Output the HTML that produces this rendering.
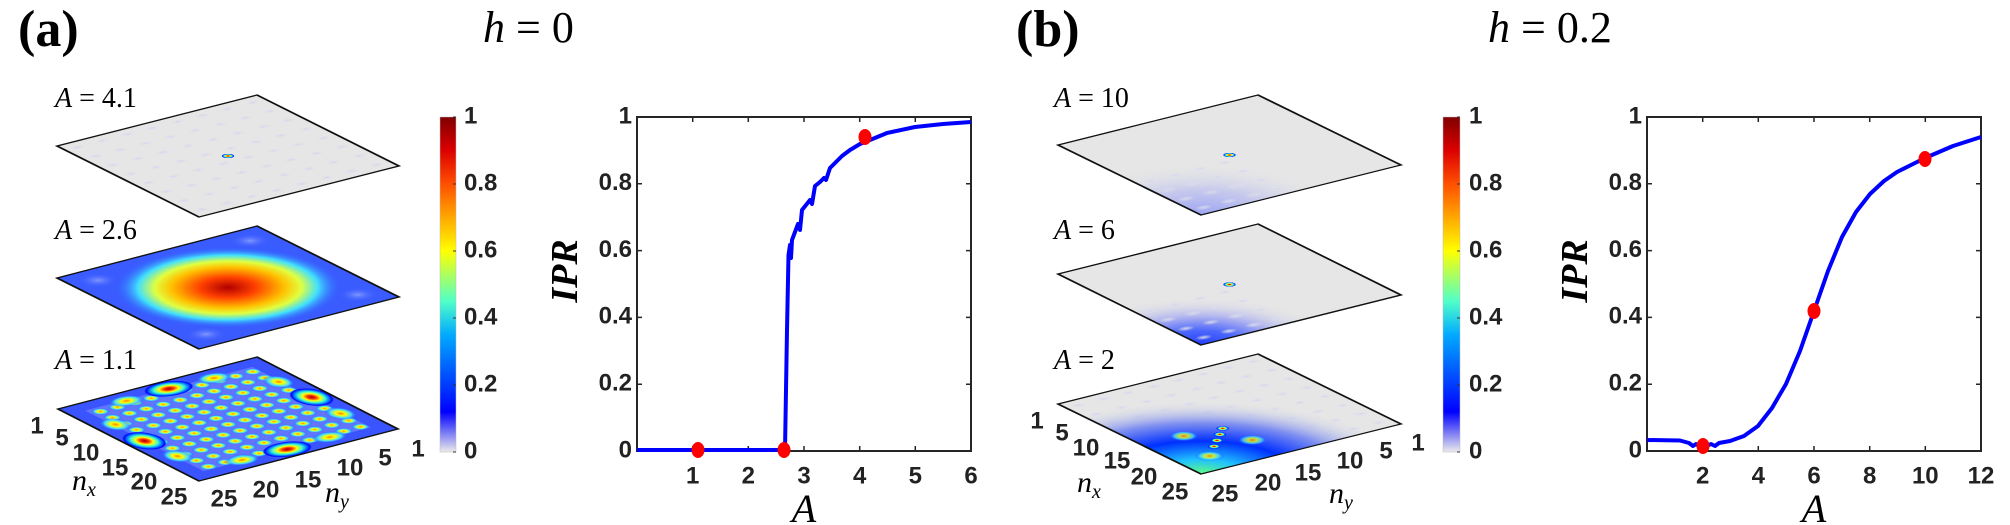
<!DOCTYPE html>
<html><head><meta charset="utf-8"><style>
html,body{margin:0;padding:0;background:#fff;width:2010px;height:525px;overflow:hidden;}
svg{display:block;}
.t{font-family:"Liberation Sans Narrow","Liberation Sans",sans-serif;font-size:24px;fill:#222;}
.tb{font-family:"Liberation Sans Narrow","Liberation Sans",sans-serif;font-size:24px;fill:#222;font-weight:bold;}
.s{font-family:"Liberation Serif",serif;}
</style></head><body>
<svg width="2010" height="525" xmlns="http://www.w3.org/2000/svg">
<defs>
<clipPath id="sq" clipPathUnits="userSpaceOnUse"><rect width="100" height="100"/></clipPath>
<linearGradient id="jet" x1="0" y1="1" x2="0" y2="0">
<stop offset="0" stop-color="#ebebeb"/><stop offset="0.12" stop-color="#0000ff"/>
<stop offset="0.35" stop-color="#00aaff"/><stop offset="0.45" stop-color="#50ffc8"/>
<stop offset="0.6" stop-color="#ffff00"/><stop offset="0.8" stop-color="#ff5000"/>
<stop offset="0.9" stop-color="#dc0000"/><stop offset="1" stop-color="#800000"/>
</linearGradient>
<radialGradient id="sp">
<stop offset="0" stop-color="#a00000"/><stop offset="0.2" stop-color="#ff3000"/>
<stop offset="0.4" stop-color="#ffff00"/><stop offset="0.6" stop-color="#40ffd0"/>
<stop offset="0.8" stop-color="#0070ff"/><stop offset="0.92" stop-color="#0000ff"/>
<stop offset="1" stop-color="#0000ff" stop-opacity="0"/>
</radialGradient>
<radialGradient id="sm">
<stop offset="0" stop-color="#ff8000"/><stop offset="0.3" stop-color="#ffff00"/>
<stop offset="0.65" stop-color="#40e0ff"/><stop offset="1" stop-color="#2040ff" stop-opacity="0"/>
</radialGradient>
<radialGradient id="big">
<stop offset="0" stop-color="#b00000"/><stop offset="0.25" stop-color="#ff4000"/>
<stop offset="0.5" stop-color="#ffc000"/><stop offset="0.65" stop-color="#e0ff40"/><stop offset="0.8" stop-color="#40e0ff"/>
<stop offset="1" stop-color="#3060ff" stop-opacity="0"/>
</radialGradient>
<radialGradient id="fb">
<stop offset="0" stop-color="#d2d4f0"/><stop offset="1" stop-color="#e6e6e6" stop-opacity="0"/>
</radialGradient>
<radialGradient id="cornerA">
<stop offset="0" stop-color="#6070ff"/><stop offset="0.5" stop-color="#b0b4f0"/><stop offset="1" stop-color="#e6e6e6" stop-opacity="0"/>
</radialGradient>
<radialGradient id="cornerB">
<stop offset="0" stop-color="#0020ff"/><stop offset="0.3" stop-color="#3050ff"/><stop offset="0.6" stop-color="#a8acf0"/><stop offset="1" stop-color="#e6e6e6" stop-opacity="0"/>
</radialGradient>
<radialGradient id="cornerC">
<stop offset="0" stop-color="#60ff80"/><stop offset="0.2" stop-color="#20c0ff"/><stop offset="0.45" stop-color="#0030ff"/><stop offset="0.7" stop-color="#8090f0"/><stop offset="1" stop-color="#e6e6e6" stop-opacity="0"/>
</radialGradient>
<radialGradient id="lb">
<stop offset="0" stop-color="#8098ff"/><stop offset="1" stop-color="#3050ff" stop-opacity="0"/>
</radialGradient>
<pattern id="pf" width="12.5" height="12.5" patternUnits="userSpaceOnUse">
<ellipse cx="6" cy="6" rx="4" ry="2.5" fill="url(#fb)"/>
</pattern>
<pattern id="pg" width="8.5" height="8.5" patternUnits="userSpaceOnUse" x="-0.25" y="-0.25">
<rect width="8.5" height="8.5" fill="#a8b0ff" opacity="0.35"/>
<circle cx="4.25" cy="4.25" r="3.9" fill="url(#sm)"/>
</pattern>
</defs>
<rect width="2010" height="525" fill="#fff"/>

<text x="18" y="46" class="s" font-size="52" font-weight="bold">(a)</text>
<text x="483" y="42" class="s" font-size="44"><tspan font-style="italic">h</tspan> = 0</text>
<text x="1016" y="46" class="s" font-size="52" font-weight="bold">(b)</text>
<text x="1488" y="42" class="s" font-size="44"><tspan font-style="italic">h</tspan> = 0.2</text>

<g transform="matrix(2 -0.51 1.42 0.71 57 146)">
<g clip-path="url(#sq)">
<rect width="100" height="100" fill="#e6e6e6"/>
<rect width="100" height="100" fill="url(#pf)"/>
<circle cx="50" cy="50" r="2.6" fill="url(#sp)"/>
</g>
<rect width="100" height="100" fill="none" stroke="#111" stroke-width="1.3"/>
</g>
<g transform="matrix(2 -0.52 1.42 0.71 57 278)">
<g clip-path="url(#sq)">
<rect width="100" height="100" fill="#3a5cff"/>
<circle cx="12" cy="12" r="9" fill="url(#lb)"/><circle cx="88" cy="12" r="9" fill="url(#lb)"/>
<circle cx="12" cy="88" r="9" fill="url(#lb)"/><circle cx="88" cy="88" r="9" fill="url(#lb)"/>
<circle cx="50" cy="50" r="46" fill="url(#big)"/>
</g>
<rect width="100" height="100" fill="none" stroke="#111" stroke-width="1.3"/>
</g>
<g transform="matrix(1.99 -0.52 1.41 0.72 58 409)">
<g clip-path="url(#sq)">
<rect width="100" height="100" fill="#3a55ff"/>
<rect x="8" y="8" width="84" height="84" fill="url(#pg)"/>
<g fill="url(#sp)">
<ellipse cx="50" cy="8" rx="11" ry="8"/><ellipse cx="8" cy="50" rx="8" ry="11"/>
<ellipse cx="92" cy="50" rx="8" ry="11"/><ellipse cx="50" cy="92" rx="11" ry="8"/>
</g>
<g fill="url(#sm)">
<ellipse cx="28" cy="9" rx="8" ry="6"/><ellipse cx="72" cy="9" rx="8" ry="6"/>
<ellipse cx="28" cy="91" rx="8" ry="6"/><ellipse cx="72" cy="91" rx="8" ry="6"/>
<ellipse cx="9" cy="28" rx="6" ry="8"/><ellipse cx="9" cy="72" rx="6" ry="8"/>
<ellipse cx="91" cy="28" rx="6" ry="8"/><ellipse cx="91" cy="72" rx="6" ry="8"/>
</g>
</g>
<rect width="100" height="100" fill="none" stroke="#111" stroke-width="1.3"/>
</g>

<g transform="matrix(2 -0.5 1.43 0.7 1058 145)">
<g clip-path="url(#sq)">
<rect width="100" height="100" fill="#e6e6e6"/>
<circle cx="0" cy="100" r="60" fill="url(#cornerA)" opacity="0.55"/>
<rect x="0" y="50" width="50" height="50" fill="url(#pf)"/>
<circle cx="50" cy="50" r="2.6" fill="url(#sp)"/>
</g>
<rect width="100" height="100" fill="none" stroke="#111" stroke-width="1.3"/>
</g>
<g transform="matrix(2 -0.5 1.43 0.71 1058 274)">
<g clip-path="url(#sq)">
<rect width="100" height="100" fill="#e6e6e6"/>
<circle cx="0" cy="100" r="55" fill="url(#cornerB)" opacity="0.85"/>
<rect x="0" y="50" width="50" height="50" fill="url(#pf)"/>
<circle cx="50" cy="50" r="2.6" fill="url(#sp)"/>
</g>
<rect width="100" height="100" fill="none" stroke="#111" stroke-width="1.3"/>
</g>
<g transform="matrix(2 -0.5 1.43 0.70 1058 404)">
<g clip-path="url(#sq)">
<rect width="100" height="100" fill="#e6e6e6"/>
<rect width="100" height="100" fill="url(#pf)"/>
<circle cx="0" cy="100" r="85" fill="url(#cornerC)"/>
<g fill="url(#sm)" opacity="0.8">
<circle cx="20" cy="60" r="6"/><circle cx="40" cy="80" r="6"/><circle cx="15" cy="85" r="6"/>
</g>
<g fill="url(#sp)">
<circle cx="38" cy="62" r="2.6"/><circle cx="33" cy="67" r="2.6"/>
<circle cx="28" cy="72" r="2.6"/><circle cx="23" cy="77" r="2.6"/>
</g>
</g>
<rect width="100" height="100" fill="none" stroke="#111" stroke-width="1.3"/>
</g>

<g class="s" font-size="28">
<text x="55" y="107"><tspan font-style="italic">A</tspan> = 4.1</text>
<text x="55" y="239"><tspan font-style="italic">A</tspan> = 2.6</text>
<text x="55" y="369"><tspan font-style="italic">A</tspan> = 1.1</text>
<text x="1054" y="107"><tspan font-style="italic">A</tspan> = 10</text>
<text x="1054" y="239"><tspan font-style="italic">A</tspan> = 6</text>
<text x="1054" y="369"><tspan font-style="italic">A</tspan> = 2</text>
</g>
<g class="tb" text-anchor="middle" dominant-baseline="middle">
<text x="37" y="427">1</text><text x="62" y="439">5</text><text x="86" y="454">10</text><text x="115" y="469">15</text><text x="144" y="483">20</text><text x="174" y="498">25</text>
<text x="224" y="500">25</text><text x="266" y="491">20</text><text x="308" y="481">15</text><text x="350" y="469">10</text><text x="385" y="459">5</text><text x="418" y="450">1</text>
<text x="1037" y="422">1</text><text x="1062" y="434">5</text><text x="1086" y="449">10</text><text x="1117" y="462">15</text><text x="1144" y="478">20</text><text x="1175" y="493">25</text>
<text x="1225" y="495">25</text><text x="1268" y="484">20</text><text x="1308" y="474">15</text><text x="1350" y="462">10</text><text x="1386" y="452">5</text><text x="1418" y="444">1</text>
</g>
<g class="s" font-size="30" font-style="italic">
<text x="72" y="490">n<tspan font-size="20" dy="6">x</tspan></text>
<text x="325" y="502">n<tspan font-size="20" dy="6">y</tspan></text>
<text x="1077" y="492">n<tspan font-size="20" dy="6">x</tspan></text>
<text x="1329" y="503">n<tspan font-size="20" dy="6">y</tspan></text>
</g>

<rect x="440" y="117" width="16" height="335" fill="url(#jet)" stroke="#bbb" stroke-width="0.5"/>
<rect x="1443" y="117" width="17" height="335" fill="url(#jet)" stroke="#bbb" stroke-width="0.5"/>
<g stroke="#333"><path d="M453 452h3M453 385h3M453 318h3M453 251h3M453 184h3M453 117h3M1457 452h3M1457 385h3M1457 318h3M1457 251h3M1457 184h3M1457 117h3"/></g>
<g class="tb" dominant-baseline="middle">
<text x="464" y="452">0</text><text x="464" y="385">0.2</text><text x="464" y="318">0.4</text><text x="464" y="251">0.6</text><text x="464" y="184">0.8</text><text x="464" y="117">1</text>
<text x="1469" y="452">0</text><text x="1469" y="385">0.2</text><text x="1469" y="318">0.4</text><text x="1469" y="251">0.6</text><text x="1469" y="184">0.8</text><text x="1469" y="117">1</text>
</g>

<rect x="637" y="117" width="334" height="334" fill="none" stroke="#262626" stroke-width="2"/>
<path stroke="#262626" stroke-width="1.5" d="M692.7 451v-5M748.3 451v-5M804 451v-5M859.7 451v-5M915.3 451v-5M692.7 117v5M748.3 117v5M804 117v5M859.7 117v5M915.3 117v5M637 384.2h5M637 317.4h5M637 250.6h5M637 183.8h5M971 384.2h-5M971 317.4h-5M971 250.6h-5M971 183.8h-5"/>
<g class="tb" text-anchor="middle" dominant-baseline="middle">
<text x="692.7" y="477">1</text><text x="748.3" y="477">2</text><text x="804" y="477">3</text><text x="859.7" y="477">4</text><text x="915.3" y="477">5</text><text x="971" y="477">6</text>
</g>
<g class="tb" text-anchor="end" dominant-baseline="middle">
<text x="632" y="451">0</text><text x="632" y="384.2">0.2</text><text x="632" y="317.4">0.4</text><text x="632" y="250.6">0.6</text><text x="632" y="183.8">0.8</text><text x="632" y="117">1</text>
</g>
<polyline fill="none" stroke="#0000ff" stroke-width="4" stroke-linejoin="round" points="637,450 785,450 787,330 788.5,255 790,245 791,258 792,240 795,232 798,224 800,230 802,210 806,205 810,200 812,204 815,186 820,182 824,178 826,180 830,168 836,162 842,156 850,150 860,144 870,140 887,133 915,127 943,124 971,122"/>
<ellipse cx="698" cy="450" rx="6.5" ry="8" fill="#f00"/>
<ellipse cx="784" cy="450" rx="6.5" ry="8" fill="#f00"/>
<ellipse cx="865" cy="137" rx="6.5" ry="8" fill="#f00"/>
<text x="804" y="522" class="s" font-size="40" font-style="italic" text-anchor="middle">A</text>
<text transform="translate(577,271) rotate(-90)" class="s" font-size="38" font-style="italic" font-weight="bold" text-anchor="middle">IPR</text>

<rect x="1647" y="117" width="334" height="334" fill="none" stroke="#262626" stroke-width="2"/>
<path stroke="#262626" stroke-width="1.5" d="M1702.7 451v-5M1758.3 451v-5M1814 451v-5M1869.7 451v-5M1925.3 451v-5M1702.7 117v5M1758.3 117v5M1814 117v5M1869.7 117v5M1925.3 117v5M1647 384.2h5M1647 317.4h5M1647 250.6h5M1647 183.8h5M1981 384.2h-5M1981 317.4h-5M1981 250.6h-5M1981 183.8h-5"/>
<g class="tb" text-anchor="middle" dominant-baseline="middle">
<text x="1702.7" y="477">2</text><text x="1758.3" y="477">4</text><text x="1814" y="477">6</text><text x="1869.7" y="477">8</text><text x="1925.3" y="477">10</text><text x="1981" y="477">12</text>
</g>
<g class="tb" text-anchor="end" dominant-baseline="middle">
<text x="1642" y="451">0</text><text x="1642" y="384.2">0.2</text><text x="1642" y="317.4">0.4</text><text x="1642" y="250.6">0.6</text><text x="1642" y="183.8">0.8</text><text x="1642" y="117">1</text>
</g>
<polyline fill="none" stroke="#0000ff" stroke-width="4" stroke-linejoin="round" points="1647,440 1680,440.5 1689,443 1693,446 1696,444 1700,447 1703,444 1707,446 1711,444 1715,446 1719,443 1730,441 1744,436 1758,426 1772,408 1786,384 1800,351 1814,311 1828,271 1842,237 1856,212 1870,194 1884,181 1897,172 1911,165 1925,158 1953,146 1981,137"/>
<ellipse cx="1703" cy="446" rx="6.5" ry="8" fill="#f00"/>
<ellipse cx="1814" cy="311" rx="6.5" ry="8" fill="#f00"/>
<ellipse cx="1925" cy="159" rx="6.5" ry="8" fill="#f00"/>
<text x="1814" y="522" class="s" font-size="40" font-style="italic" text-anchor="middle">A</text>
<text transform="translate(1587,271) rotate(-90)" class="s" font-size="38" font-style="italic" font-weight="bold" text-anchor="middle">IPR</text>
</svg>
</body></html>
